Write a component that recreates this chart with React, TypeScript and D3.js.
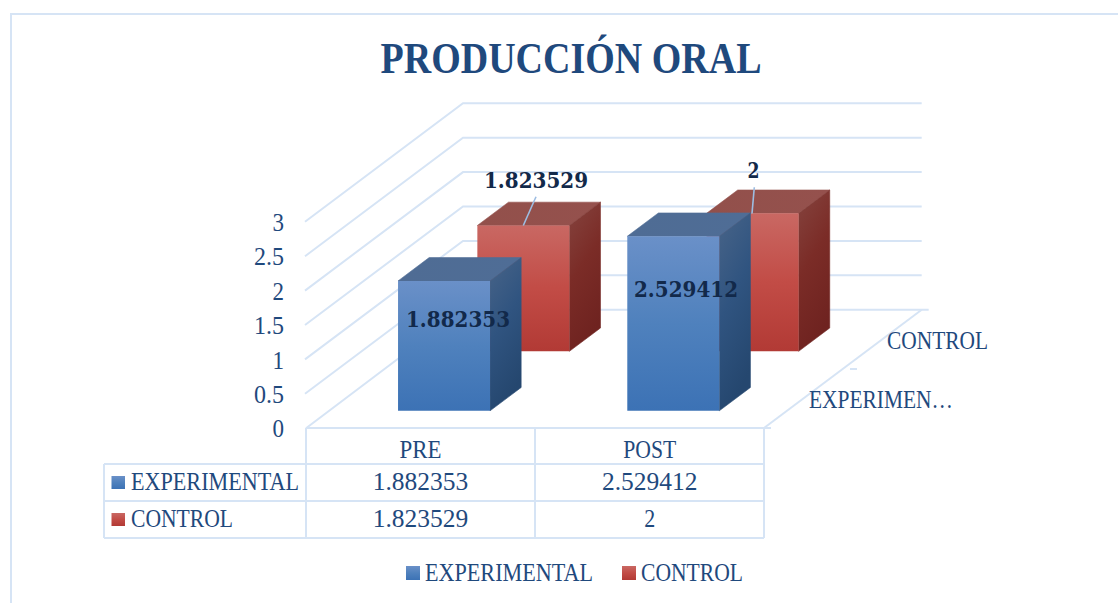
import React from "react";
import * as d3 from "d3";

const title = "PRODUCCIÓN ORAL";
const categories = ["PRE", "POST"];
const seriesNames = ["EXPERIMENTAL", "CONTROL"];
const experimental = [1.882353, 2.529412];
const control = [1.823529, 2];
const yTicks = [0, 0.5, 1, 1.5, 2, 2.5, 3];
const yTickLabels = ["0", "0.5", "1", "1.5", "2", "2.5", "3"];
const depthLabels = ["EXPERIMEN…", "CONTROL"];

const W = 1118, H = 603;
const SERIF = "'Liberation Serif', serif";
const BOLD = "'DejaVu Serif', serif";
const TEXT = "#1f497d";
const DARK = "#12294a";
const GRID = "#d6e4f5";

const floorY = 428, depthDX = 158, depthDY = 118.5;
const x = d3.scaleBand<string>().domain(categories).range([306.5, 765]);
const yBack = d3.scaleLinear().domain([0, 3]).range([309.7, 103.3]);
const height = d3.scaleLinear().domain([0, 3]).range([0, 207]);
const depthStart = d3.scaleOrdinal<string, number>().domain(seriesNames).range([0.145, 0.647]);
const barDepth = 0.197;
const barWidth = 92;
const pt = (px: number, v: number, d: number): [number, number] => [px + d * depthDX, floorY - d * depthDY - height(v)];
const poly = (p: [number, number][]) => d3.line()(p) + "Z";

function Bar({ cat, series, value, c }: any) {
  const x0 = x(cat)! + (x.bandwidth() - barWidth) / 2, x1 = x0 + barWidth;
  const d0 = depthStart(series), d1 = d0 + barDepth;
  return (
    <g>
      <path d={poly([pt(x0, value, d0), pt(x1, value, d0), pt(x1, value, d1), pt(x0, value, d1)])} fill={`url(#${c}Top)`} stroke={`url(#${c}Top)`} strokeWidth={0.6} />
      <path d={poly([pt(x1, 0, d0), pt(x1, value, d0), pt(x1, value, d1), pt(x1, 0, d1)])} fill={`url(#${c}Side)`} stroke={`url(#${c}Side)`} strokeWidth={0.6} />
      <path d={poly([pt(x0, 0, d0), pt(x1, 0, d0), pt(x1, value, d0), pt(x0, value, d0)])} fill={`url(#${c}Front)`} />
    </g>
  );
}

function T({ x, y, w, children, size = 25, anchor = "start", fill = TEXT, family = SERIF, weight = "normal" }: any) {
  return (
    <text x={x} y={y} fontSize={size} fontFamily={family} fontWeight={weight} fill={fill} textAnchor={anchor}
      textLength={w} lengthAdjust={w ? "spacingAndGlyphs" : undefined}>{children}</text>
  );
}

export default function App() {
  const backL = 463, backR = 921.7;
  const tableL = 104, c0 = 306, c1 = 535, c2 = 764;
  const rows = [428, 464, 501, 538];
  const rowBase = [490, 527];
  const swatchY = [476, 513];
  const tableVals = [experimental, control];
  const legendSw = [406, 622];
  const legendTxt = [[425, 168], [641, 102]];
  const labelPos = [
    [[458, 327.3], [686, 297.3]],
    [[536, 188.3], [753.5, 178.3]],
  ];
  const cellW = (s: string) => (s.length > 1 ? 95.5 : 11);
  const colCentre = (c: string) => x(c)! + x.bandwidth() / 2 - 0.7;
  const leader = [
    [[536, 196.7], [523.3, 225.5]],
    [[754.3, 187.3], [752, 213.5]],
  ];
  return (
    <svg width={W} height={H} style={{ position: "absolute", left: 0, top: 0, background: "#fff" }}>
      <defs>
        <linearGradient id="blueFront" x1="0" y1="0" x2="0" y2="1">
          <stop offset="0" stopColor="#6a90c8" /><stop offset="0.5" stopColor="#4f81bd" /><stop offset="1" stopColor="#3c72b5" />
        </linearGradient>
        <linearGradient id="blueSide" x1="0" y1="0" x2="0.3" y2="1">
          <stop offset="0" stopColor="#486488" /><stop offset="0.5" stopColor="#305480" /><stop offset="1" stopColor="#25476f" />
        </linearGradient>
        <linearGradient id="blueTop" x1="0" y1="0" x2="1" y2="0">
          <stop offset="0" stopColor="#4f6c94" /><stop offset="1" stopColor="#4f6d96" />
        </linearGradient>
        <linearGradient id="redFront" x1="0" y1="0" x2="0" y2="1">
          <stop offset="0" stopColor="#c96863" /><stop offset="0.5" stopColor="#c24c46" /><stop offset="1" stopColor="#b23a35" />
        </linearGradient>
        <linearGradient id="redSide" x1="0" y1="0" x2="0.3" y2="1">
          <stop offset="0" stopColor="#85443f" /><stop offset="0.5" stopColor="#7b2c27" /><stop offset="1" stopColor="#6f2320" />
        </linearGradient>
        <linearGradient id="redTop" x1="0" y1="0" x2="1" y2="0">
          <stop offset="0" stopColor="#92504b" /><stop offset="1" stopColor="#95514d" />
        </linearGradient>
      </defs>

      <path d={`M11,${H}V14H${W}`} fill="none" stroke={GRID} strokeWidth={2} />

      <g stroke={GRID} strokeWidth={2} fill="none">
        {yTicks.map((t) => (
          <path key={t} d={`M${t === 0 ? 306 : 305},${yBack(t) + depthDY}L${backL},${yBack(t)}H${t === 0 ? backR + 7 : backR}`} />
        ))}
        <path d={`M${c2},${floorY}L${backR},${yBack(0)}`} />
        <path d={`M850,369h7`} />
        <path d={`M${c2},${floorY}h7`} />
      </g>

      <Bar cat="PRE" series="CONTROL" value={control[0]} c="red" />
      <Bar cat="POST" series="CONTROL" value={control[1]} c="red" />
      <Bar cat="PRE" series="EXPERIMENTAL" value={experimental[0]} c="blue" />
      <Bar cat="POST" series="EXPERIMENTAL" value={experimental[1]} c="blue" />

      <g stroke="#9dbde2" strokeWidth={1.6}>
        {leader.map((l, i) => <line key={i} x1={l[0][0]} y1={l[0][1]} x2={l[1][0]} y2={l[1][1]} />)}
      </g>

      {[experimental, control].map((vals, s) => vals.map((v, i) => (
        <T key={`${s}-${i}`} x={labelPos[s][i][0]} y={labelPos[s][i][1]} anchor="middle" size={23} family={BOLD} weight="bold"
          fill={DARK} w={String(v).length > 1 ? 104 : 12}>{String(v)}</T>
      )))}

      {yTicks.map((t, i) => (
        <T key={t} x={284} y={yBack(t) + depthDY + 9.2} anchor="end" size={26} w={yTickLabels[i].length > 1 ? 30 : 11.5}>{yTickLabels[i]}</T>
      ))}

      <T x={887} y={349} w={101}>{depthLabels[1]}</T>
      <T x={809} y={408} w={144}>{depthLabels[0]}</T>

      <T x={571} y={73} anchor="middle" size={44} weight="bold" w={381}>{title}</T>

      <g stroke={GRID} strokeWidth={2} fill="none">
        <path d={`M${c0},${rows[0]}H${c2}`} />
        {rows.slice(1).map((r) => <path key={r} d={`M${tableL},${r}H${c2}`} />)}
        <path d={`M${tableL},${rows[1]}V${rows[3]}`} />
        {[c0, c1, c2].map((c) => <path key={c} d={`M${c},${rows[0]}V${rows[3]}`} />)}
      </g>

      {categories.map((c, i) => (
        <T key={c} x={colCentre(c)} y={458} anchor="middle" w={i === 0 ? 42 : 53}>{c}</T>
      ))}
      {seriesNames.map((n, s) => (
        <g key={n}>
          <rect x={111.5} y={swatchY[s]} width={13.5} height={13} fill={`url(#${s === 0 ? "blue" : "red"}Front)`} />
          <T x={131} y={rowBase[s]} w={s === 0 ? 168 : 102}>{n}</T>
          {tableVals[s].map((v, i) => (
            <T key={i} x={colCentre(categories[i])} y={rowBase[s]} anchor="middle" w={cellW(String(v))}>{String(v)}</T>
          ))}
          <rect x={legendSw[s]} y={566} width={14} height={14} fill={`url(#${s === 0 ? "blue" : "red"}Front)`} />
          <T x={legendTxt[s][0]} y={581} w={legendTxt[s][1]}>{n}</T>
        </g>
      ))}
    </svg>
  );
}
